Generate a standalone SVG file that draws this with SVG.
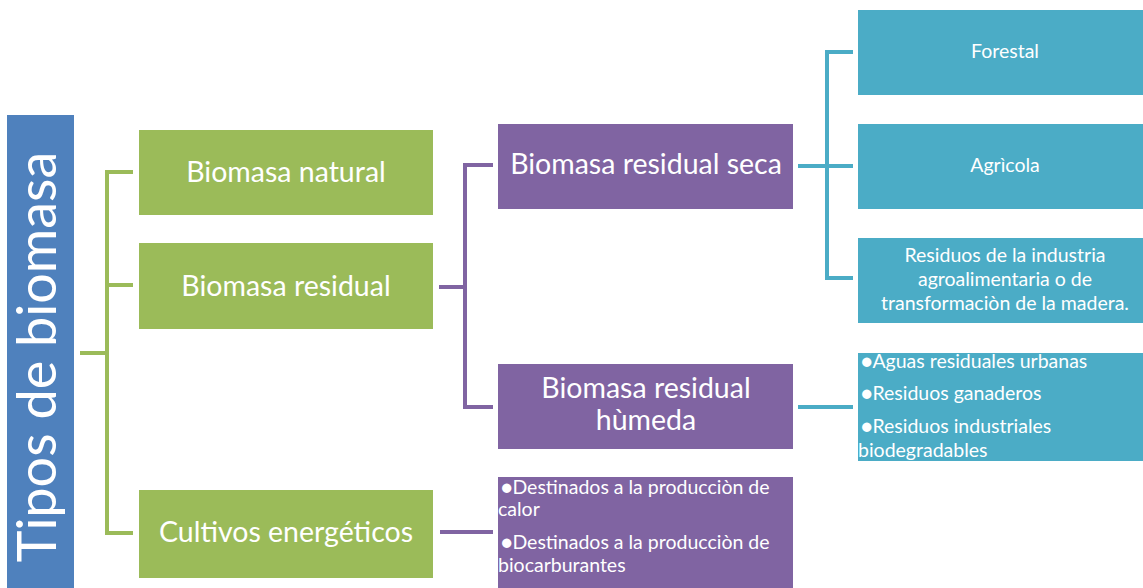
<svg xmlns="http://www.w3.org/2000/svg" width="1143" height="588" viewBox="0 0 1143 588">
<style>
text{font-family:Lato,"Open Sans","Liberation Sans",sans-serif;fill:#fff}
.g{fill:#9BBB59}.p{fill:#8064A2}.t{fill:#4BACC6}.b{fill:#4F81BD}
.l1{font-size:28.5px;text-anchor:middle}
.l3{font-size:19.5px;text-anchor:middle}
.bl{font-size:19.5px}
.dot{font-size:19px}
.cg{stroke:#9BBB59}.cp{stroke:#8064A2}.ct{stroke:#4BACC6}
.conn path{fill:none;stroke-width:4}
</style>
<g class="conn">
<path class="cg" d="M80,353H107M133,172H107V533H133M107,285H133"/>
<path class="cp" d="M439,287H465M493,165H465V407H493"/>
<path class="cp" d="M440,532H493"/>
<path class="ct" d="M798,166H827M853,52H827V278H853M827,166H853"/>
<path class="ct" d="M798,407H853"/>
</g>
<g id="root"><rect class="b" x="7" y="115" width="67" height="473"/>
<text transform="translate(56,357) rotate(-90)" style="font-size:54px;text-anchor:middle">Tipos de biomasa</text></g>
<g id="natural"><rect class="g" x="139" y="130" width="294" height="85"/>
<text class="l1" x="286" y="182">Biomasa natural</text></g>
<g id="residual"><rect class="g" x="139" y="243" width="294" height="86"/>
<text class="l1" x="286" y="296">Biomasa residual</text></g>
<g id="cultivos"><rect class="g" x="139" y="490" width="294" height="88"/>
<text class="l1" x="286" y="542">Cultivos energéticos</text></g>
<g id="seca"><rect class="p" x="498" y="124" width="295" height="85"/>
<text class="l1" x="646" y="174">Biomasa residual seca</text></g>
<g id="humeda"><rect class="p" x="498" y="364" width="295" height="85"/>
<text class="l1" x="646" y="398">Biomasa residual</text>
<text class="l1" x="646" y="430">hùmeda</text></g>
<g id="destinados"><rect class="p" x="498" y="477" width="295" height="111"/>
<text class="bl" x="501" y="494"><tspan class="dot">●</tspan>Destinados a la producciòn de</text>
<text class="bl" x="498" y="516">calor</text>
<text class="bl" x="501" y="549"><tspan class="dot">●</tspan>Destinados a la producciòn de</text>
<text class="bl" x="498" y="572">biocarburantes</text></g>
<g id="forestal"><rect class="t" x="858" y="10" width="285" height="85"/>
<text class="l3" x="1005" y="58">Forestal</text></g>
<g id="agricola"><rect class="t" x="858" y="124" width="285" height="85"/>
<text class="l3" x="1005" y="172">Agrìcola</text></g>
<g id="residuos"><rect class="t" x="858" y="238" width="285" height="85"/>
<text class="l3" x="1005" y="262">Residuos de la industria</text>
<text class="l3" x="1005" y="286">agroalimentaria o de</text>
<text class="l3" x="1005" y="310">transformaciòn de la madera.</text></g>
<g id="humedalist"><rect class="t" x="858" y="353" width="285" height="108"/>
<text class="bl" x="861" y="368"><tspan class="dot">●</tspan>Aguas residuales urbanas</text>
<text class="bl" x="861" y="400"><tspan class="dot">●</tspan>Residuos ganaderos</text>
<text class="bl" x="861" y="433"><tspan class="dot">●</tspan>Residuos industriales</text>
<text class="bl" x="858" y="457">biodegradables</text></g>
</svg>
